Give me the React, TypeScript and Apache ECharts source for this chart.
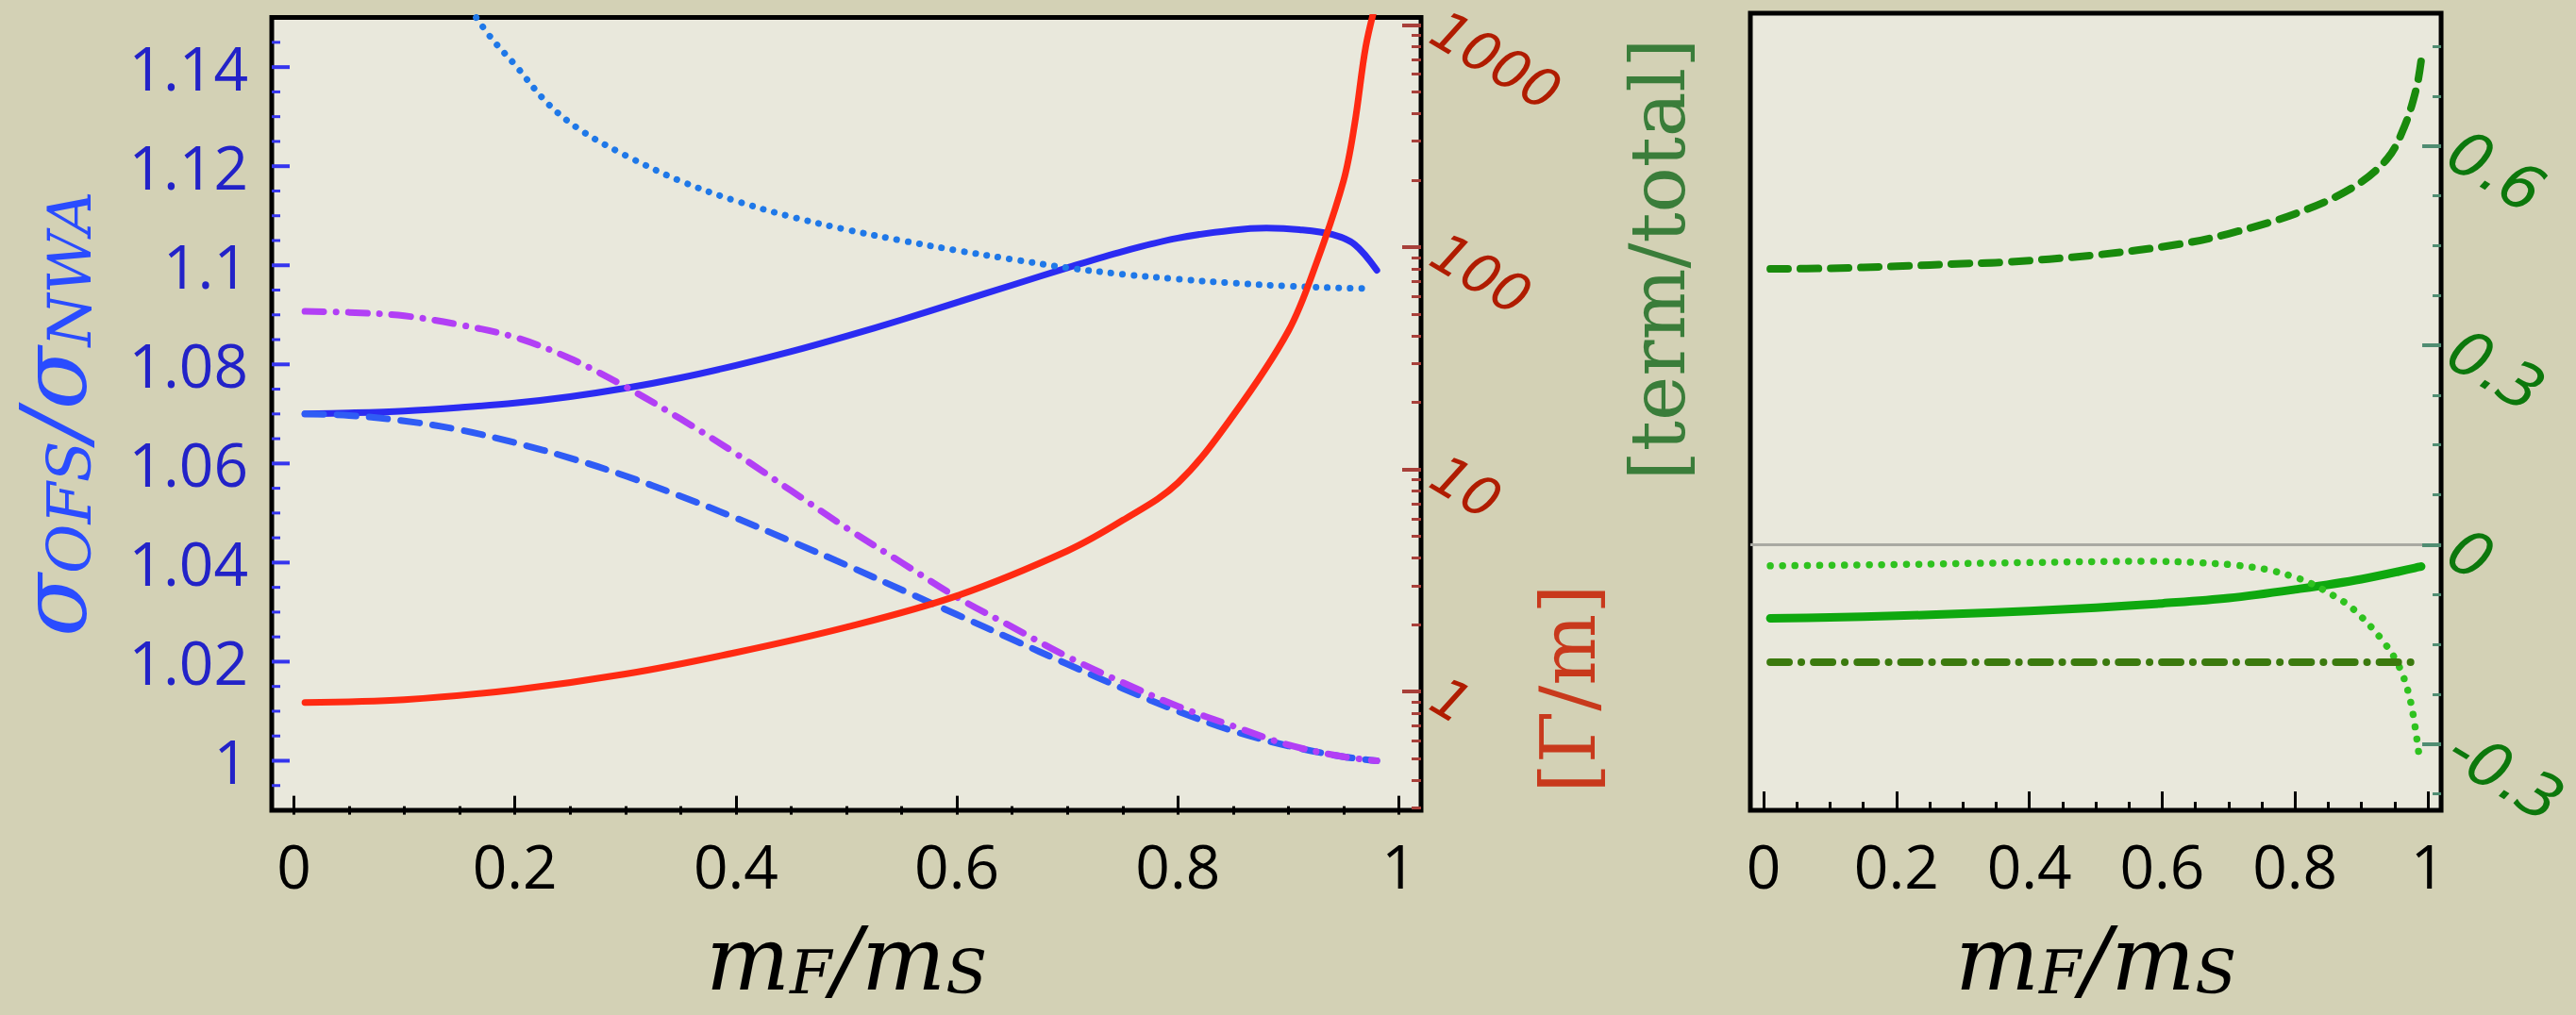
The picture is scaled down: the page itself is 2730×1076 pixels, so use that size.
import React, { useEffect, useRef } from "react";
import * as echarts from "echarts";

// ---------- tick values ----------
const xMajor = [0, 0.2, 0.4, 0.6, 0.8, 1];
const xMinor = [0.05, 0.1, 0.15, 0.25, 0.3, 0.35, 0.45, 0.5, 0.55, 0.65, 0.7, 0.75, 0.85, 0.9, 0.95];
const sigmaMajor = [1, 1.02, 1.04, 1.06, 1.08, 1.1, 1.12, 1.14];
const sigmaMinor = [0.995, 1.005, 1.01, 1.015, 1.025, 1.03, 1.035, 1.045, 1.05, 1.055, 1.065, 1.07, 1.075, 1.085, 1.09, 1.095, 1.105, 1.11, 1.115, 1.125, 1.13, 1.135, 1.145];
const gammaMajor = [1, 10, 100, 1000];
const gammaMinor = [0.3, 0.4, 0.5, 0.6, 0.7, 0.8, 0.9, 2, 3, 4, 5, 6, 7, 8, 9, 20, 30, 40, 50, 60, 70, 80, 90, 200, 300, 400, 500, 600, 700, 800, 900];
const termMajor = [-0.3, 0, 0.3, 0.6];
const termMinor = [-0.375, -0.225, -0.15, -0.075, 0.075, 0.15, 0.225, 0.375, 0.45, 0.525, 0.675, 0.75];

// ---------- left panel series ----------
const solidBlueX = [0.01, 0.05, 0.1, 0.15, 0.2, 0.25, 0.3, 0.35, 0.4, 0.45, 0.5, 0.55, 0.6, 0.65, 0.7, 0.75, 0.8, 0.85, 0.88, 0.91, 0.94, 0.96, 0.98];
const solidBlueY = [1.07, 1.0702, 1.0706, 1.0713, 1.0722, 1.0735, 1.0752, 1.0773, 1.0798, 1.0826, 1.0857, 1.089, 1.0925, 1.096, 1.0995, 1.1028, 1.1055, 1.1071, 1.1075, 1.1072, 1.1062, 1.1042, 1.099];

const dashedBlueX = [0.01, 0.05, 0.1, 0.15, 0.2, 0.25, 0.3, 0.35, 0.4, 0.45, 0.5, 0.55, 0.6, 0.65, 0.7, 0.75, 0.8, 0.85, 0.9, 0.95, 0.98];
const dashedBlueY = [1.07, 1.0697, 1.0686, 1.0668, 1.0642, 1.0611, 1.0575, 1.0534, 1.049, 1.0443, 1.0395, 1.0345, 1.0295, 1.0245, 1.0195, 1.0146, 1.01, 1.006, 1.003, 1.0008, 1.0];

const dashDotX = [0.01, 0.05, 0.1, 0.15, 0.2, 0.25, 0.3, 0.35, 0.4, 0.45, 0.5, 0.55, 0.6, 0.65, 0.7, 0.75, 0.8, 0.85, 0.9, 0.95, 0.98];
const dashDotY = [1.0907, 1.0905, 1.0898, 1.088, 1.0855, 1.0812, 1.0755, 1.069, 1.062, 1.0545, 1.047, 1.04, 1.033, 1.027, 1.021, 1.0158, 1.011, 1.007, 1.0032, 1.0008, 1.0];

const dottedBlueX = [0.165, 0.18, 0.2, 0.23, 0.26, 0.3, 0.35, 0.4, 0.45, 0.5, 0.55, 0.6, 0.65, 0.7, 0.75, 0.8, 0.85, 0.9, 0.95, 0.976];
const dottedBlueY = [1.15, 1.1455, 1.1405, 1.1326, 1.1272, 1.1222, 1.117, 1.113, 1.1098, 1.1072, 1.105, 1.103, 1.1012, 1.0995, 1.0982, 1.0972, 1.0964, 1.0958, 1.0954, 1.0953];

const gammaX = [0.01, 0.1, 0.2, 0.3, 0.4, 0.5, 0.6, 0.7, 0.75, 0.8, 0.85, 0.9, 0.925, 0.95, 0.96, 0.97, 0.98];
const gammaY = [0.894, 0.92, 1.02, 1.2, 1.5, 1.95, 2.7, 4.3, 5.9, 8.7, 17.5, 42, 84, 200, 360, 800, 1300];

// ---------- right panel series ----------
const dashedGreenX = [0.01, 0.1, 0.2, 0.3, 0.36, 0.5, 0.624, 0.7, 0.8, 0.886, 0.939, 0.965, 0.983, 0.99];
const dashedGreenY = [0.415, 0.416, 0.419, 0.423, 0.425, 0.436, 0.452, 0.468, 0.498, 0.537, 0.581, 0.63, 0.688, 0.729];

const solidGreenX = [0.01, 0.1, 0.2, 0.3, 0.4, 0.5, 0.6, 0.7, 0.8, 0.9, 0.99];
const solidGreenY = [-0.111, -0.1095, -0.1072, -0.104, -0.1, -0.095, -0.0885, -0.0805, -0.0675, -0.052, -0.033];

const dottedGreenX = [0.01, 0.2, 0.4, 0.58, 0.65, 0.711, 0.76, 0.8, 0.825, 0.86, 0.886, 0.93, 0.957, 0.974, 0.987];
const dottedGreenY = [-0.032, -0.03, -0.027, -0.025, -0.027, -0.031, -0.038, -0.049, -0.059, -0.078, -0.0955, -0.142, -0.184, -0.236, -0.319];

const dashDotGreenX = [0.01, 0.25, 0.5, 0.75, 0.99];
const dashDotGreenY = [-0.177, -0.177, -0.177, -0.177, -0.177];

const zip = (xs: number[], ys: number[]) => xs.map((x, i) => [x, ys[i]]);
const log10 = (v: number) => Math.log10(v);

const SANS = '"Open Sans", "Noto Sans", sans-serif';
const OBL = '"DejaVu Sans", sans-serif';
const SERIF = '"DejaVu Serif", serif';

const X_MIN = -0.02;
const X_MAX = 1.02;
const SIG_MIN = 0.99;
const SIG_MAX = 1.15;
const GRID_TOP = 14;
const GRID_H = 845;
const GRID_LEFT = [288, 1855];
const GRID_W = [1218, 740];
const MAJOR_LEN = 19;
const MINOR_LEN = 9;
const SIGMA_TICK_COLOR = "#3535ee";

const titleGraphics: any[] = [
  {
    type: "text",
    id: "title-gamma",
    x: 1662,
    y: 730,
    rotation: Math.PI / 2,
    z: 10,
    style: { text: "[Γ/m]", fontFamily: SERIF, fontSize: 80, fill: "#c8391c", align: "center", verticalAlign: "middle" },
  },
  {
    type: "text",
    id: "title-term",
    x: 1757,
    y: 275,
    rotation: Math.PI / 2,
    z: 10,
    style: { text: "[term/total]", fontFamily: SERIF, fontSize: 80, fill: "#3a7d3a", align: "center", verticalAlign: "middle" },
  },
];

function buildOption() {
  const noLine = { show: false, onZero: false };

  const mathRich = (color: string, main: number, sub: number) => ({
    i: { fontFamily: SERIF, fontStyle: "italic", fontSize: main, lineHeight: main, color },
    s: { fontFamily: SERIF, fontStyle: "italic", fontSize: sub, lineHeight: Math.round(sub * 0.55), verticalAlign: "bottom", color },
  });

  const xLabelAxis = (gridIndex: number) => ({
    type: "value",
    gridIndex,
    position: "bottom",
    min: X_MIN,
    max: X_MAX,
    axisLine: noLine,
    splitLine: { show: false },
    axisTick: { show: false },
    axisLabel: { show: true, customValues: xMajor, margin: 26, color: "#000", fontFamily: SANS, fontSize: 64 },
    name: "{i|m}{s|F}{i|/m}{s|S}",
    nameLocation: "middle",
    nameGap: 110,
    nameTextStyle: { rich: mathRich("#000", 94, 64) },
  });
  const xTickAxis = (gridIndex: number, values: number[], length: number, width: number) => ({
    type: "value",
    gridIndex,
    position: "top",
    offset: -GRID_H,
    z: 10,
    min: X_MIN,
    max: X_MAX,
    axisLine: noLine,
    splitLine: { show: false },
    axisTick: { show: true, inside: false, length, customValues: values, lineStyle: { color: "#000", width } },
    axisLabel: { show: false },
  });

  const xAxes = [
    xLabelAxis(0),
    xTickAxis(0, xMajor, 20, 3),
    xTickAxis(0, xMinor, 9, 3),
    xLabelAxis(1),
    xTickAxis(1, xMajor, 20, 3),
    xTickAxis(1, xMinor, 9, 3),
  ];

  const yBase = (gridIndex: number, position: string, min: number, max: number) => ({
    type: "value",
    gridIndex,
    position,
    z: 10,
    min,
    max,
    axisLine: noLine,
    splitLine: { show: false },
  });

  const yAxes = [
    {
      ...yBase(0, "left", SIG_MIN, SIG_MAX),
      axisTick: { show: false },
      axisLabel: { show: true, customValues: sigmaMajor, margin: 25, color: "#2222c8", fontFamily: SANS, fontSize: 64, padding: [16, 0, 0, 0] },
      name: "{i|σ}{s|OFS}{i|/σ}{s|NWA}",
      nameLocation: "middle",
      nameRotate: 90,
      nameGap: 182,
      nameTextStyle: { rich: mathRich("#2a4cff", 98, 64) },
    },
    {
      ...yBase(0, "right", log10(0.2925), log10(1079)),
      axisTick: { show: true, inside: true, length: 20, customValues: gammaMajor.map(log10), lineStyle: { color: "#a8403a", width: 4 } },
      axisLabel: {
        show: true,
        customValues: gammaMajor.map(log10),
        formatter: (v: number) => String(Math.round(Math.pow(10, v))),
        rotate: -31,
        margin: 16,
        color: "#b01c00",
        fontFamily: OBL,
        fontStyle: "italic",
        fontSize: 58,
        lineHeight: 40,
        padding: [14, 0, 0, 0],
      },
    },
    {
      ...yBase(0, "right", log10(0.2925), log10(1079)),
      axisTick: { show: true, inside: true, length: 10, customValues: gammaMinor.map(log10), lineStyle: { color: "#a8403a", width: 3 } },
      axisLabel: { show: false },
    },
    {
      ...yBase(1, "right", -0.4, 0.8),
      axisTick: { show: true, inside: true, length: 20, customValues: termMajor, lineStyle: { color: "#4f8c72", width: 4 } },
      axisLabel: {
        show: true,
        customValues: termMajor,
        rotate: -31,
        margin: 13,
        color: "#0c780c",
        fontFamily: OBL,
        fontStyle: "italic",
        fontSize: 66,
        lineHeight: 44,
        padding: [8, 0, 0, 0],
      },
    },
    {
      ...yBase(1, "right", -0.4, 0.8),
      axisTick: { show: true, inside: true, length: 9, customValues: termMinor, lineStyle: { color: "#4f8c72", width: 3 } },
      axisLabel: { show: false },
    },
  ];

  const line = (name: string, data: number[][], xi: number, yi: number, color: string, width: number, type: any, z = 3) => ({
    name,
    type: "line",
    xAxisIndex: xi,
    yAxisIndex: yi,
    data,
    smooth: 0.35,
    symbol: "none",
    showSymbol: false,
    clip: true,
    z,
    lineStyle: { color, width, type, cap: "round", join: "round" },
  });

  const series: any[] = [
    line("σ total", zip(solidBlueX, solidBlueY), 0, 0, "#2b2bf2", 7, "solid"),
    line("σ dashed", zip(dashedBlueX, dashedBlueY), 0, 0, "#2f5cf5", 7, [20, 14]),
    line("σ dash-dot", zip(dashDotX, dashDotY), 0, 0, "#b23ff5", 7, [20, 13, 0.1, 13]),
    line("σ dotted", zip(dottedBlueX, dottedBlueY), 0, 0, "#1f78e8", 7, [0.1, 12]),
    line("Γ/m", gammaX.map((x, i) => [x, log10(gammaY[i])]), 0, 1, "#ff2a12", 7, "solid", 4),
    {
      ...line("term dashed", zip(dashedGreenX, dashedGreenY), 3, 3, "#198a0c", 8, [19, 13]),
      markLine: {
        silent: true,
        symbol: "none",
        label: { show: false },
        lineStyle: { color: "#a9a9a2", width: 3, type: "solid" },
        data: [{ yAxis: 0 }],
        z: 1,
      },
    },
    line("term solid", zip(solidGreenX, solidGreenY), 3, 3, "#0fa80f", 9, "solid"),
    line("term dotted", zip(dottedGreenX, dottedGreenY), 3, 3, "#2fc21f", 7.5, [0.1, 13]),
    line("term dash-dot", zip(dashDotGreenX, dashDotGreenY), 3, 3, "#3b7a0e", 8, [20, 13, 0.1, 13]),
  ];

  return {
    animation: false,
    backgroundColor: "#d3d1b5",
    grid: [
      { left: GRID_LEFT[0], top: GRID_TOP, width: GRID_W[0], height: GRID_H, show: true, backgroundColor: "#e9e8dc", borderColor: "#000", borderWidth: 5, containLabel: false },
      { left: GRID_LEFT[1], top: GRID_TOP, width: GRID_W[1], height: GRID_H, show: true, backgroundColor: "#e9e8dc", borderColor: "#000", borderWidth: 5, containLabel: false },
    ],
    xAxis: xAxes,
    yAxis: yAxes,
    series,
    graphic: { elements: titleGraphics },
  };
}

// pixel of a sigma value on the left frame, asked from the chart's own y scale
function sigmaPixelY(chart: any, v: number): number {
  let y: any = NaN;
  try {
    y = chart.convertToPixel({ yAxisIndex: 0 }, v);
  } catch (e) {
    y = NaN;
  }
  if (Array.isArray(y)) y = y[1];
  return typeof y === "number" ? y : NaN;
}
function frameLeftX(chart: any): number {
  let x: any = NaN;
  try {
    x = chart.convertToPixel({ xAxisIndex: 0 }, X_MIN);
  } catch (e) {
    x = NaN;
  }
  if (Array.isArray(x)) x = x[0];
  return typeof x === "number" && isFinite(x) ? x : GRID_LEFT[0];
}

function sigmaTickGraphics(chart: any) {
  const x0 = frameLeftX(chart);
  const ticks = [
    ...sigmaMajor.map((v) => ({ v, len: MAJOR_LEN, w: 4 })),
    ...sigmaMinor.map((v) => ({ v, len: MINOR_LEN, w: 3 })),
  ];
  const out: any[] = [];
  ticks.forEach((t, i) => {
    const y = sigmaPixelY(chart, t.v);
    if (!isFinite(y)) return;
    out.push({
      type: "line",
      id: "sigma-tick-" + i,
      z: 200,
      zlevel: 0,
      silent: true,
      shape: { x1: x0, y1: y, x2: x0 + t.len, y2: y },
      style: { stroke: SIGMA_TICK_COLOR, lineWidth: t.w, lineCap: "butt" },
    });
  });
  return out;
}

export default function App() {
  const ref = useRef<HTMLDivElement>(null);
  useEffect(() => {
    document.body.style.margin = "0";
    if (!ref.current) return;
    const chart = echarts.init(ref.current, null, { renderer: "svg" });
    chart.setOption(buildOption() as any);
    const ticks = sigmaTickGraphics(chart);
    if (ticks.length) {
      chart.setOption({ graphic: { elements: [...titleGraphics, ...ticks] } } as any);
    }
    return () => chart.dispose();
  }, []);
  return <div ref={ref} style={{ position: "absolute", left: 0, top: 0, width: 2730, height: 1076 }} />;
}
